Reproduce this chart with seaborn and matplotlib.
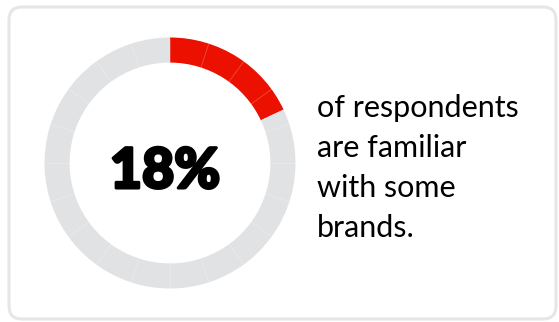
import matplotlib
matplotlib.use("Agg")
import matplotlib.pyplot as plt
from matplotlib.patches import FancyBboxPatch
import matplotlib.patheffects as pe
import numpy as np
import seaborn as sns

# Share of respondents and the ring's tick step (percent)
share_pct = 18
segment_step = 5
headline = f"{share_pct}%"
caption_lines = ["of respondents", "are familiar", "with some", "brands."]

highlight_color = "#EB1000"
track_color = "#E1E2E4"

sns.set_theme(style="white")
plt.rcParams["font.family"] = ["Lato", "DejaVu Sans"]

W, H = 559, 322
fig = plt.figure(figsize=(W / 100, H / 100), dpi=100)
fig.patch.set_facecolor("white")

# Background layer in pixel coordinates for the card and text
bg = fig.add_axes([0, 0, 1, 1])
bg.set_xlim(0, W)
bg.set_ylim(H, 0)
bg.axis("off")
card = FancyBboxPatch((9, 7), 547, 312,
                      boxstyle="round,pad=0,rounding_size=13",
                      facecolor="white", edgecolor="#E6E6E6", linewidth=2.2)
bg.add_patch(card)

# Donut ring
cx, cy, r = 170, 163, 125.5
ax = fig.add_axes([(cx - r) / W, (H - cy - r) / H, 2 * r / W, 2 * r / H])
values = [share_pct, 100 - share_pct]
ax.pie(values, colors=[highlight_color, track_color], startangle=90,
       counterclock=False, radius=1,
       wedgeprops=dict(width=0.2, edgecolor="none", linewidth=0))

# Faint dividers every segment_step percent
for pct in np.arange(0, 100, segment_step):
    ang = np.deg2rad(90 - pct * 3.6)
    ax.plot([0.8 * np.cos(ang), 1.0 * np.cos(ang)],
            [0.8 * np.sin(ang), 1.0 * np.sin(ang)],
            color="white", alpha=0.3, linewidth=0.5, solid_capstyle="butt")

ax.set_xlim(-1, 1)
ax.set_ylim(-1, 1)
ax.set_aspect("equal")
ax.axis("off")

bg.text(165, 172, headline, ha="center", va="center", fontsize=40,
        fontweight="black", color="black",
        path_effects=[pe.withStroke(linewidth=2.2, foreground="black")])

for i, line in enumerate(caption_lines):
    bg.text(317, 117 + i * 40, line, ha="left", va="baseline",
            fontsize=22, color="black")

fig.savefig("out.png", dpi=100)
